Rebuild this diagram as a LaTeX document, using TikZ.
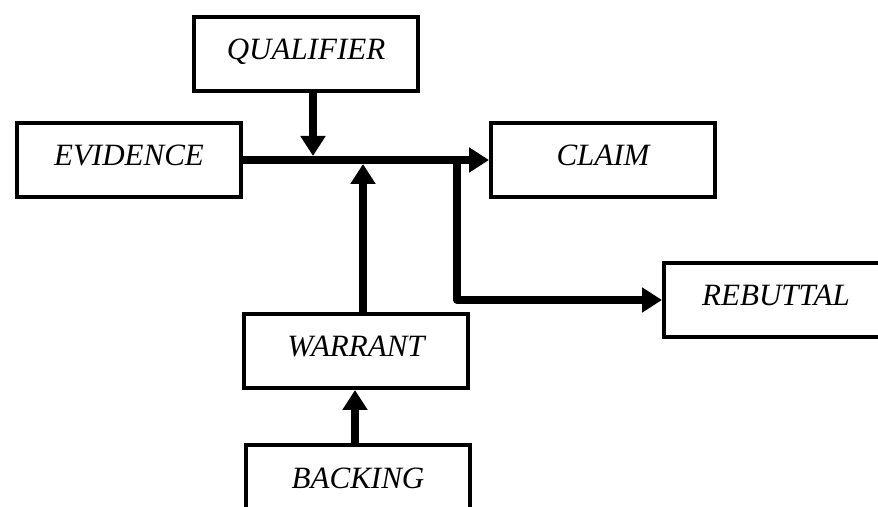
\documentclass[tikz,border=0pt]{standalone}
\usepackage{fontspec}
\setmainfont{Liberation Serif}
\usepackage{tikz}
\usetikzlibrary{arrows.meta, calc}

\tikzset{
  toulbox/.style={draw, line width=4pt, rectangle, minimum width=224pt, minimum height=74pt,
    text height=22pt, text depth=10pt, font=\fontsize{31}{36}\selectfont\itshape},
  link/.style={line width=8pt},
  linkarrow/.style={line width=8pt, -{Triangle[length=20pt, width=24pt]}}
}

\begin{document}
\begin{tikzpicture}[x=1pt, y=1pt]
  \useasboundingbox (0,0) rectangle (878,506);
  \clip (0,0) rectangle (878,506);
  \node[toulbox] (qualifier) at (306,452) {QUALIFIER};
  \node[toulbox] (evidence) at (129,346) {EVIDENCE};
  \node[toulbox] (claim) at (603,346) {CLAIM};
  \node[toulbox] (rebuttal) at (776,206) {REBUTTAL};
  \node[toulbox] (warrant) at (356,155) {WARRANT};
  \node[toulbox] (backing) at (358,24) {BACKING};
  \coordinate (split) at (457,346);
  \coordinate (qualfoot) at ([xshift=7pt]qualifier.south);
  \coordinate (warrhead) at ([xshift=7pt]warrant.north);
  \draw[linkarrow] (evidence.east) -- (claim.west);
  \draw[linkarrow, shorten >=4pt] (qualfoot) -- (qualfoot |- evidence.east);
  \draw[linkarrow, shorten >=4pt] (warrhead) -- (warrhead |- evidence.east);
  \draw[linkarrow, line join=round] (split) |- (rebuttal.west);
  \draw[linkarrow] ([xshift=-3pt]backing.north) -- ([xshift=-3pt]backing.north |- warrant.south);
\end{tikzpicture}
\end{document}
